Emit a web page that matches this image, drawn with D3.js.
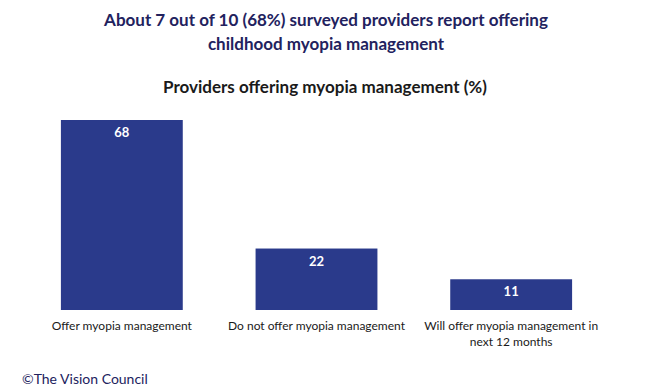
<!DOCTYPE html>
<html>
<head>
<meta charset="utf-8">
<script src="https://cdn.jsdelivr.net/npm/d3@7"></script>
<style>
  body { margin: 0; background: #fff; }
</style>
</head>
<body>
<div id="chart"></div>
<script>
// data
const categories = ["Offer myopia management", "Do not offer myopia management", "Will offer myopia management in next 12 months"];
const values = [68, 22, 11];
const titleLines = ["About 7 out of 10 (68%) surveyed providers report offering", "childhood myopia management"];
const subtitle = "Providers offering myopia management (%)";
const footer = "\u00A9The Vision Council";

const width = 650, height = 391;
const barColor = "#2a3a8b";

const svg = d3.select("#chart").append("svg")
  .attr("width", width)
  .attr("height", height);

// title
svg.append("text")
  .attr("text-anchor", "middle")
  .attr("font-family", "Lato, sans-serif")
  .attr("font-weight", "bold")
  .attr("font-size", "17px")
  .attr("fill", "#22225e")
  .selectAll("tspan")
  .data(titleLines)
  .join("tspan")
  .attr("x", 326)
  .attr("y", (d, i) => 26 + i * 24)
  .text(d => d);

svg.append("text")
  .attr("x", 325)
  .attr("y", 93)
  .attr("text-anchor", "middle")
  .attr("font-family", "Lato, sans-serif")
  .attr("font-weight", "bold")
  .attr("font-size", "17px")
  .attr("fill", "#1a1a1a")
  .text(subtitle);

// scales
const x = d3.scaleBand()
  .domain(categories)
  .range([24.5, 608.5])
  .paddingInner(0.374)
  .paddingOuter(0.187);

const y = d3.scaleLinear()
  .domain([0, 68])
  .range([310, 120]);

// bars
svg.selectAll("rect.bar")
  .data(values)
  .join("rect")
  .attr("class", "bar")
  .attr("x", (d, i) => x(categories[i]))
  .attr("y", d => y(d))
  .attr("width", x.bandwidth())
  .attr("height", d => y(0) - y(d))
  .attr("fill", barColor);

// value labels
svg.selectAll("text.val")
  .data(values)
  .join("text")
  .attr("class", "val")
  .attr("x", (d, i) => x(categories[i]) + x.bandwidth() / 2)
  .attr("y", d => y(d) + 17)
  .attr("text-anchor", "middle")
  .attr("font-family", "Lato, sans-serif")
  .attr("font-weight", "bold")
  .attr("font-size", "13px")
  .attr("fill", "#fff")
  .text(d => d);

// category labels (wrapped as in the original)
const labelLines = [["Offer myopia management"], ["Do not offer myopia management"], ["Will offer myopia management in", "next 12 months"]];
categories.forEach((c, i) => {
  const t = svg.append("text")
    .attr("text-anchor", "middle")
    .attr("font-family", "Lato, sans-serif")
    .attr("font-size", "12px")
    .attr("fill", "#1a1a1a");
  labelLines[i].forEach((line, j) => {
    t.append("tspan")
      .attr("x", x(c) + x.bandwidth() / 2)
      .attr("y", 330 + j * 16)
      .text(line);
  });
});

// footer
svg.append("text")
  .attr("x", 22)
  .attr("y", 384)
  .attr("font-family", "Lato, sans-serif")
  .attr("font-size", "14px")
  .attr("fill", "#22225e")
  .text(footer);
</script>
</body>
</html>
